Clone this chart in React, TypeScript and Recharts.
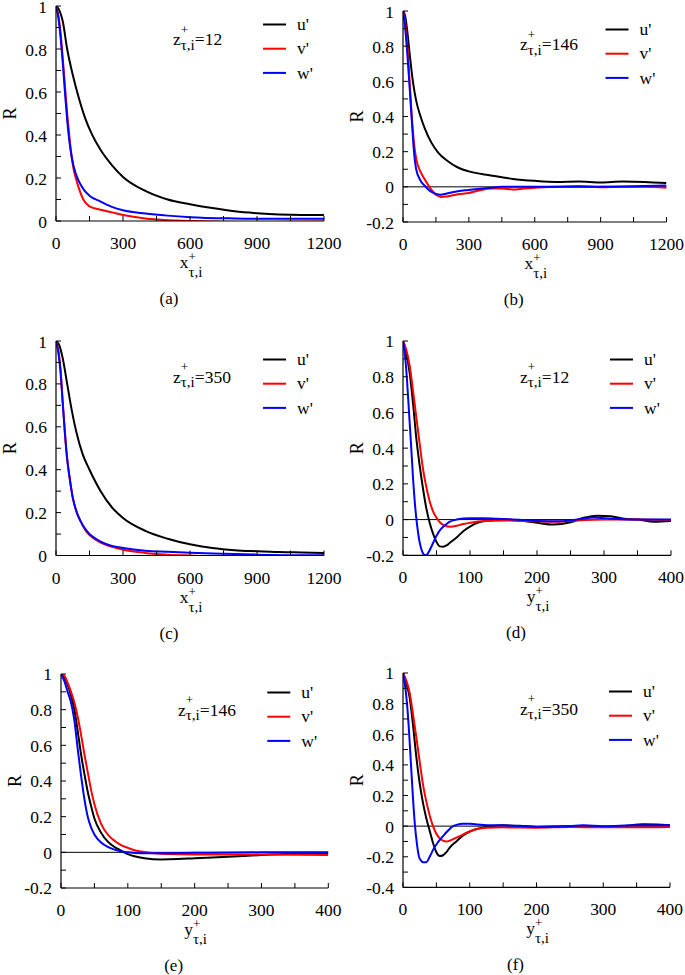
import React from 'react';
import { LineChart, Line, XAxis, YAxis, ReferenceLine } from 'recharts';

type Pt = [number, number];

// ---------- Panel (a): streamwise separation, z+ = 12 ----------
const aU: Pt[] = [[0,1],[15,0.98],[30,0.93],[50,0.8],[75,0.68],[100,0.58],[130,0.48],[160,0.405],[200,0.33],[250,0.26],[300,0.205],[400,0.14],[500,0.1],[600,0.078],[700,0.06],[800,0.045],[900,0.036],[1000,0.03],[1100,0.028],[1200,0.028]];
const aV: Pt[] = [[0,1],[10,0.96],[20,0.88],[30,0.76],[40,0.63],[50,0.5],[60,0.39],[70,0.3],[80,0.235],[90,0.195],[100,0.16],[125,0.095],[150,0.068],[200,0.052],[250,0.04],[300,0.028],[400,0.012],[500,0.004],[700,-0.002],[900,-0.005],[1050,-0.004],[1200,-0.002]];
const aW: Pt[] = [[0,1],[10,0.95],[20,0.86],[30,0.74],[40,0.6],[50,0.47],[60,0.37],[70,0.3],[80,0.25],[100,0.19],[125,0.145],[150,0.118],[200,0.09],[250,0.066],[300,0.05],[400,0.035],[500,0.025],[600,0.018],[800,0.012],[1000,0.01],[1200,0.01]];

// ---------- Panel (b): streamwise separation, z+ = 146 ----------
const bU: Pt[] = [[0,1],[10,0.97],[20,0.88],[30,0.76],[45,0.6],[60,0.49],[80,0.4],[100,0.33],[130,0.25],[160,0.195],[200,0.15],[250,0.11],[300,0.088],[400,0.065],[500,0.045],[600,0.034],[700,0.028],[800,0.03],[900,0.025],[1000,0.03],[1100,0.028],[1200,0.022]];
const bV: Pt[] = [[0,1],[10,0.93],[20,0.8],[30,0.6],[40,0.4],[50,0.25],[60,0.16],[80,0.085],[100,0.04],[120,0],[150,-0.045],[175,-0.058],[200,-0.055],[250,-0.042],[300,-0.035],[350,-0.02],[400,-0.01],[450,-0.01],[500,-0.015],[550,-0.01],[600,-0.005],[700,0],[800,0.005],[900,-0.002],[1000,0],[1100,0],[1200,-0.005]];
const bW: Pt[] = [[0,1],[10,0.9],[20,0.75],[30,0.57],[40,0.38],[50,0.2],[60,0.1],[80,0.035],[100,0.005],[120,-0.02],[150,-0.04],[170,-0.045],[200,-0.038],[250,-0.025],[300,-0.018],[400,-0.005],[450,0],[600,0],[800,0],[1000,0.002],[1200,0.008]];

// ---------- Panel (c): streamwise separation, z+ = 350 ----------
const cU: Pt[] = [[0,1],[15,0.98],[30,0.92],[50,0.8],[70,0.68],[90,0.58],[120,0.47],[150,0.4],[200,0.3],[250,0.225],[300,0.175],[400,0.115],[500,0.078],[600,0.052],[700,0.035],[800,0.025],[900,0.02],[1000,0.016],[1100,0.014],[1200,0.012]];
const cV: Pt[] = [[0,1],[10,0.96],[20,0.87],[30,0.72],[40,0.57],[50,0.45],[60,0.37],[75,0.27],[90,0.21],[110,0.16],[130,0.12],[150,0.095],[175,0.075],[200,0.06],[250,0.04],[300,0.027],[400,0.012],[500,0.004],[600,0],[750,-0.005],[900,-0.004],[1200,-0.004]];
const cW: Pt[] = [[0,1],[10,0.95],[20,0.86],[30,0.71],[40,0.57],[50,0.45],[60,0.37],[75,0.27],[90,0.21],[110,0.16],[130,0.125],[150,0.1],[175,0.08],[200,0.065],[250,0.045],[300,0.035],[400,0.022],[500,0.017],[600,0.013],[750,0.008],[900,0.004],[1200,0.001]];

// ---------- Panel (d): spanwise separation, z+ = 12 ----------
const dU: Pt[] = [[0,1],[5,0.93],[10,0.82],[15,0.65],[20,0.45],[25,0.3],[30,0.17],[35,0.06],[40,-0.02],[45,-0.08],[50,-0.125],[55,-0.15],[60,-0.152],[65,-0.145],[70,-0.13],[80,-0.1],[90,-0.065],[100,-0.04],[110,-0.02],[120,-0.01],[130,-0.005],[150,0],[175,-0.005],[200,-0.018],[225,-0.028],[250,-0.015],[270,0.01],[290,0.022],[310,0.018],[330,0.005],[350,0],[375,-0.012],[400,-0.008]];
const dV: Pt[] = [[0,1],[5,0.95],[10,0.86],[15,0.72],[20,0.57],[25,0.42],[30,0.28],[35,0.18],[40,0.1],[45,0.045],[50,0.01],[55,-0.015],[60,-0.03],[70,-0.04],[80,-0.035],[90,-0.025],[100,-0.018],[120,-0.008],[150,-0.005],[200,-0.01],[230,-0.012],[260,-0.005],[300,0],[350,0],[400,-0.003]];
const dW: Pt[] = [[0,1],[3,0.92],[6,0.78],[9,0.6],[12,0.42],[15,0.23],[18,0.08],[21,-0.03],[24,-0.11],[27,-0.16],[30,-0.19],[33,-0.2],[36,-0.195],[40,-0.17],[45,-0.13],[50,-0.09],[55,-0.06],[60,-0.04],[65,-0.025],[70,-0.012],[80,0],[90,0.006],[100,0.008],[120,0.008],[140,0.005],[160,0.002],[200,-0.008],[230,-0.01],[260,0],[285,0.012],[310,0.005],[340,0],[400,0]];

// ---------- Panel (e): spanwise separation, z+ = 146 ----------
const eU: Pt[] = [[0,1],[5,0.98],[10,0.94],[15,0.88],[20,0.8],[25,0.68],[30,0.55],[35,0.44],[40,0.34],[45,0.26],[50,0.19],[60,0.11],[70,0.06],[80,0.03],[90,0.01],[100,-0.01],[110,-0.022],[125,-0.033],[150,-0.04],[175,-0.038],[200,-0.033],[250,-0.025],[300,-0.015],[350,-0.008],[400,-0.005]];
const eV: Pt[] = [[0,1],[5,0.99],[10,0.95],[15,0.9],[20,0.84],[25,0.76],[30,0.66],[35,0.55],[40,0.45],[45,0.35],[50,0.27],[60,0.16],[70,0.1],[80,0.065],[90,0.04],[100,0.025],[110,0.012],[120,0.005],[140,-0.005],[160,-0.01],[200,-0.012],[300,-0.012],[400,-0.015]];
const eW: Pt[] = [[0,1],[5,0.96],[10,0.9],[15,0.84],[20,0.74],[25,0.58],[30,0.43],[35,0.3],[40,0.2],[45,0.14],[50,0.1],[60,0.055],[70,0.03],[80,0.015],[90,0.005],[100,0],[120,-0.005],[150,-0.005],[200,-0.003],[300,0],[400,0]];

// ---------- Panel (f): spanwise separation, z+ = 350 ----------
const fU: Pt[] = [[0,1],[5,0.93],[10,0.84],[15,0.66],[20,0.45],[25,0.28],[30,0.15],[35,0.05],[40,-0.03],[45,-0.11],[50,-0.17],[55,-0.195],[60,-0.19],[65,-0.17],[70,-0.14],[80,-0.1],[90,-0.06],[100,-0.035],[110,-0.018],[125,-0.005],[150,0.005],[175,0.002],[200,-0.005],[250,0],[300,-0.005],[330,0],[360,0.012],[380,0.01],[400,0.005]];
const fV: Pt[] = [[0,1],[5,0.95],[10,0.87],[15,0.73],[20,0.58],[25,0.42],[30,0.27],[35,0.16],[40,0.07],[45,0],[50,-0.05],[55,-0.08],[60,-0.095],[65,-0.1],[70,-0.095],[80,-0.075],[90,-0.055],[100,-0.035],[110,-0.02],[125,-0.01],[150,-0.008],[200,-0.01],[250,-0.006],[300,-0.008],[350,-0.008],[400,-0.005]];
const fW: Pt[] = [[0,1],[3,0.92],[6,0.8],[9,0.62],[12,0.4],[15,0.18],[18,0],[21,-0.12],[24,-0.2],[27,-0.225],[30,-0.235],[35,-0.235],[40,-0.2],[45,-0.155],[50,-0.12],[55,-0.09],[60,-0.065],[65,-0.04],[70,-0.018],[75,0],[80,0.008],[90,0.015],[100,0.015],[120,0.008],[150,0.005],[200,-0.005],[250,0],[270,0.005],[300,0],[350,0.005],[400,0.005]];

// ---------- ticks & labels ----------
const xTicksLong = [0,150,300,450,600,750,900,1050,1200];
const xTicksShort = [0,50,100,150,200,250,300,350,400];
const yTicks0 = [0,0.1,0.2,0.3,0.4,0.5,0.6,0.7,0.8,0.9,1];
const yTicks02 = [-0.2,-0.1,0,0.1,0.2,0.3,0.4,0.5,0.6,0.7,0.8,0.9,1];
const yTicks04 = [-0.4,-0.3,-0.2,-0.1,0,0.1,0.2,0.3,0.4,0.5,0.6,0.7,0.8,0.9,1];
const seriesNames = ["u'", "v'", "w'"];
const seriesColors = ['#000000', '#ff0000', '#0000ff'];
const zValues = ['12', '146', '350', '12', '146', '350'];
const captions = ['(a)', '(b)', '(c)', '(d)', '(e)', '(f)'];

const FONT = "'Liberation Serif', 'Times New Roman', Times, serif";
const FS = 17.5;

type Panel = {
  left: number; top: number; w: number; h: number; annY: number;
  xDom: [number, number]; xTicks: number[]; xMajor: number; xVar: string;
  yDom: [number, number]; yTicks: number[]; zero: boolean;
  data: Pt[][];
};

const panels: Panel[] = [
  { left: 56, top: 6, w: 268, h: 215, annY: 39, xDom: [0, 1200], xTicks: xTicksLong, xMajor: 300, xVar: 'x', yDom: [0, 1], yTicks: yTicks0, zero: false, data: [aU, aV, aW] },
  { left: 402.5, top: 11, w: 263.5, h: 211, annY: 39, xDom: [0, 1200], xTicks: xTicksLong, xMajor: 300, xVar: 'x', yDom: [-0.2, 1], yTicks: yTicks02, zero: true, data: [bU, bV, bW] },
  { left: 56, top: 340.5, w: 268, h: 214.5, annY: 41.5, xDom: [0, 1200], xTicks: xTicksLong, xMajor: 300, xVar: 'x', yDom: [0, 1], yTicks: yTicks0, zero: false, data: [cU, cV, cW] },
  { left: 402.7, top: 340.7, w: 268, h: 214.3, annY: 41.5, xDom: [0, 400], xTicks: xTicksShort, xMajor: 100, xVar: 'y', yDom: [-0.2, 1], yTicks: yTicks02, zero: true, data: [dU, dV, dW] },
  { left: 61, top: 673.7, w: 267.3, h: 214, annY: 41.5, xDom: [0, 400], xTicks: xTicksShort, xMajor: 100, xVar: 'y', yDom: [-0.2, 1], yTicks: yTicks02, zero: true, data: [eU, eV, eW] },
  { left: 403.3, top: 673.3, w: 267, h: 214.4, annY: 41.5, xDom: [0, 400], xTicks: xTicksShort, xMajor: 100, xVar: 'y', yDom: [-0.4, 1], yTicks: yTicks04, zero: true, data: [fU, fV, fW] },
];

const ML = 56; // y-axis width
const MT = 10;
const MR = 20;
const MB = 100; // x-axis area (ticks + title + caption)
const TICK = 5;

const isMajor = (v: number, step: number) => Math.abs(v / step - Math.round(v / step)) < 1e-6;
const fmtY = (v: number) => {
  if (Math.abs(v) < 1e-9) return '0';
  if (Math.abs(v - 1) < 1e-9) return '1';
  return v.toFixed(1);
};

const BottomTick = (p: any) => {
  const { x, y, payload, major } = p;
  const v = payload.value;
  return (
    <g>
      <line x1={x} y1={y} x2={x} y2={y - TICK} stroke="#000" strokeWidth={1} />
      {isMajor(v, major) && (
        <text x={x} y={y + 28} textAnchor="middle" fontFamily={FONT} fontSize={FS} fill="#000">{String(v)}</text>
      )}
    </g>
  );
};
const TopTick = (p: any) => {
  const { x, y } = p;
  return <line x1={x} y1={y} x2={x} y2={y + TICK} stroke="#000" strokeWidth={1} />;
};
const LeftTick = (p: any) => {
  const { x, y, payload } = p;
  const v = payload.value;
  return (
    <g>
      <line x1={x} y1={y} x2={x + TICK} y2={y} stroke="#000" strokeWidth={1} />
      {isMajor(v, 0.2) && (
        <text x={x - 9} y={y + 6.5} textAnchor="end" fontFamily={FONT} fontSize={FS} fill="#000">{fmtY(v)}</text>
      )}
    </g>
  );
};
const RightTick = (p: any) => {
  const { x, y } = p;
  return <line x1={x} y1={y} x2={x - TICK} y2={y} stroke="#000" strokeWidth={1} />;
};

const PanelChart = ({ p, idx }: { p: Panel; idx: number }) => {
  const width = ML + p.w + MR;
  const height = MT + p.h + MB;
  const plotL = ML;
  const plotR = ML + p.w;
  const plotT = MT;
  return (
    <div style={{ position: 'absolute', left: p.left - ML, top: p.top - MT, width, height }}>
      <LineChart width={width} height={height} margin={{ top: MT, right: MR, bottom: 0, left: 0 }}>
        <XAxis
          xAxisId="b" type="number" dataKey="x" domain={p.xDom} ticks={p.xTicks} interval={0}
          allowDataOverflow orientation="bottom" height={MB} tickSize={0} tickMargin={0} tickLine={false}
          axisLine={{ stroke: '#000', strokeWidth: 1.2 }}
          tick={(tp: any) => <BottomTick {...tp} major={p.xMajor} />}
          label={{
            content: (lp: any) => {
              const vb = lp.viewBox || {};
              const cx = vb.x + vb.width / 2;
              const by = vb.y;
              return (
                <g>
                  <text x={cx + 1} y={by + 47} textAnchor="middle" fontFamily={FONT} fontSize={FS} fill="#000">
                    {p.xVar}
                    <tspan dy={-7} fontSize={13}>+</tspan>
                    <tspan dx={-7.3} dy={16} fontSize={15}>τ,i</tspan>
                  </text>
                  <text x={cx - 21} y={by + 83} textAnchor="middle" fontFamily={FONT} fontSize={17} fill="#000">{captions[idx]}</text>
                </g>
              );
            },
          }}
        />
        <XAxis
          xAxisId="t" type="number" dataKey="x" domain={p.xDom} ticks={p.xTicks} interval={0}
          allowDataOverflow orientation="top" height={0} tickSize={0} tickMargin={0} tickLine={false}
          axisLine={{ stroke: '#000', strokeWidth: 1.2 }}
          tick={(tp: any) => <TopTick {...tp} />}
        />
        <YAxis
          yAxisId="l" type="number" domain={p.yDom} ticks={p.yTicks} interval={0}
          allowDataOverflow orientation="left" width={ML} tickSize={0} tickMargin={0} tickLine={false}
          axisLine={{ stroke: '#000', strokeWidth: 1.2 }}
          tick={(tp: any) => <LeftTick {...tp} />}
          label={{
            content: (lp: any) => {
              const vb = lp.viewBox || {};
              const lx = vb.x + vb.width - 46;
              const cy = vb.y + vb.height / 2;
              return (
                <text x={lx} y={cy} transform={`rotate(-90 ${lx} ${cy})`} textAnchor="middle" dominantBaseline="central"
                  fontFamily={FONT} fontSize={18} fill="#000">R</text>
              );
            },
          }}
        />
        <YAxis
          yAxisId="r" type="number" domain={p.yDom} ticks={p.yTicks} interval={0}
          allowDataOverflow orientation="right" width={0} tickSize={0} tickMargin={0} tickLine={false}
          axisLine={{ stroke: '#000', strokeWidth: 1.2 }}
          tick={(tp: any) => <RightTick {...tp} />}
        />
        {p.zero && <ReferenceLine xAxisId="b" yAxisId="l" y={0} stroke="#000" strokeWidth={1} />}
        {p.data.map((s, i) => (
          <Line
            key={seriesNames[i]}
            xAxisId="b" yAxisId="l"
            data={s.map(([x, r]) => ({ x, r }))}
            dataKey="r" name={seriesNames[i]} type="monotone"
            stroke={seriesColors[i]} strokeWidth={2} dot={false} activeDot={false}
            isAnimationActive={false}
          />
        ))}
      </LineChart>
      <svg width={width} height={height} style={{ position: 'absolute', left: 0, top: 0, pointerEvents: 'none' }}>
        <text x={plotL + 117} y={plotT + p.annY} fontFamily={FONT} fontSize={FS} fill="#000">
          z
          <tspan dy={-11.5} fontSize={13}>+</tspan>
          <tspan dx={-7.3} dy={16} fontSize={15}>τ,i</tspan>
          <tspan dy={-4.5} fontSize={FS}>={zValues[idx]}</tspan>
        </text>
        {seriesNames.map((n, i) => {
          const ry = plotT + 18.5 + i * 24.2;
          return (
            <g key={n}>
              <line x1={plotR - 61} x2={plotR - 38} y1={ry} y2={ry} stroke={seriesColors[i]} strokeWidth={2} />
              <text x={plotR - 27} y={ry + 5.7} fontFamily={FONT} fontSize={FS} fill="#000">{n}</text>
            </g>
          );
        })}
      </svg>
    </div>
  );
}

export default function App() {
  return (
    <div style={{ position: 'absolute', left: 0, top: 0, width: 685, height: 975, background: '#fff', overflow: 'hidden' }}>
      {panels.map((p, i) => <PanelChart key={i} p={p} idx={i} />)}
    </div>
  );
}
